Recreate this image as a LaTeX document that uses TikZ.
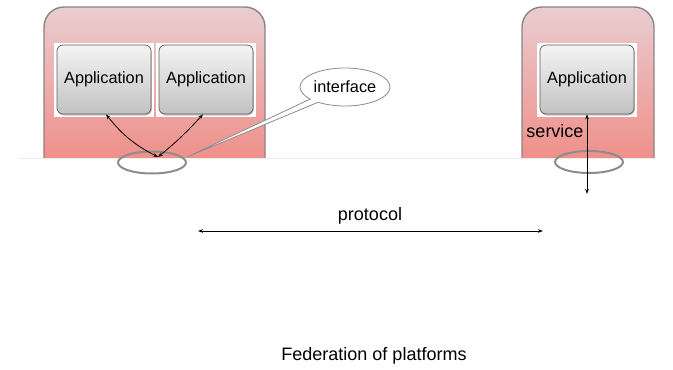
\documentclass[tikz,border=0pt]{standalone}
\usepackage{fontspec}
\setmainfont{Liberation Sans}
\usetikzlibrary{shapes.geometric,shapes.callouts,arrows.meta,shadows}

\definecolor{platTop}{HTML}{E9CDD1}
\definecolor{platBot}{HTML}{F0908A}
\definecolor{platEdge}{HTML}{8A8484}
\definecolor{appTop}{HTML}{F4F4F4}
\definecolor{appBot}{HTML}{C2C2C2}
\definecolor{appEdge}{HTML}{5E5E5E}
\definecolor{ringGray}{HTML}{8C8C8C}
\definecolor{baseLine}{HTML}{ECECEC}

\tikzset{
  platform/.style={top color=platTop, bottom color=platBot, draw=platEdge, line width=1.4pt, rounded corners=20pt},
  appback/.style={fill=white, minimum width=100pt, minimum height=74pt, inner sep=0pt},
  appbox/.style={top color=appTop, bottom color=appBot, draw=appEdge, line width=0.7pt,
    rounded corners=6pt, minimum width=94pt, minimum height=69pt, inner sep=0pt,
    drop shadow={shadow xshift=0.8pt, shadow yshift=-1.5pt, opacity=0.45},
    font=\fontsize{16.3}{19}\selectfont},
  ring/.style={ellipse, draw=ringGray, line width=2pt, minimum width=68pt, minimum height=22pt, inner sep=0pt},
  link/.style={{Stealth[length=5pt,width=3.6pt]}-{Stealth[length=5pt,width=3.6pt]}, line width=0.8pt},
  lbl/.style={inner sep=0pt, font=\fontsize{18}{21}\selectfont}
}

\begin{document}
\begin{tikzpicture}[x=1pt, y=-1pt]
\useasboundingbox (0,0) rectangle (673,370);

% platforms, open at the bottom
\path[platform] (44,158) -- (44,7) -- (265,7) -- (265,158);
\path[platform] (522,158) -- (522,7) -- (654,7) -- (654,158);
\draw[baseLine, line width=0.8pt] (18,158) -- (656,158);

% applications
\node[appback] at (104,80) {};
\node[appback] at (206,80) {};
\node[appback] at (587,80) {};
\node[appbox] (appA) at (104,79.5) {Application};
\node[appbox] (appB) at (206,79.5) {Application};
\node[appbox] (appC) at (587,79.5) {Application};

% interfaces
\node[ring] (ifL) at (152,162.5) {};
\node[ring] (ifR) at (589,162) {};
\coordinate (jL) at (158,157);
\coordinate (jR) at (587,194);

\draw[link] (appA.south -| 106,0) to[bend right=12] (jL);
\draw[link] (appB.south -| 203,0) to[bend left=4] (jL);
\draw[link] (appC.south) -- (jR);

% callout
\node[ellipse callout, draw=ringGray, fill=white, line width=0.8pt,
      minimum width=90pt, minimum height=38pt, inner sep=0pt,
      callout absolute pointer={(187,157)}, callout pointer arc=14,
      font=\fontsize{16.3}{19}\selectfont] (callout) at (345,87) {interface};

% labels
\node[lbl] (svc) at (555,131.5) {service};
\node[lbl] (proto) at (370,216) {protocol};
\coordinate (pL) at (198,231);
\coordinate (pR) at (543,231);
\draw[link] (pL) -- (pR);
\node[lbl] (title) at (374,356) {Federation of platforms};
\end{tikzpicture}
\end{document}
